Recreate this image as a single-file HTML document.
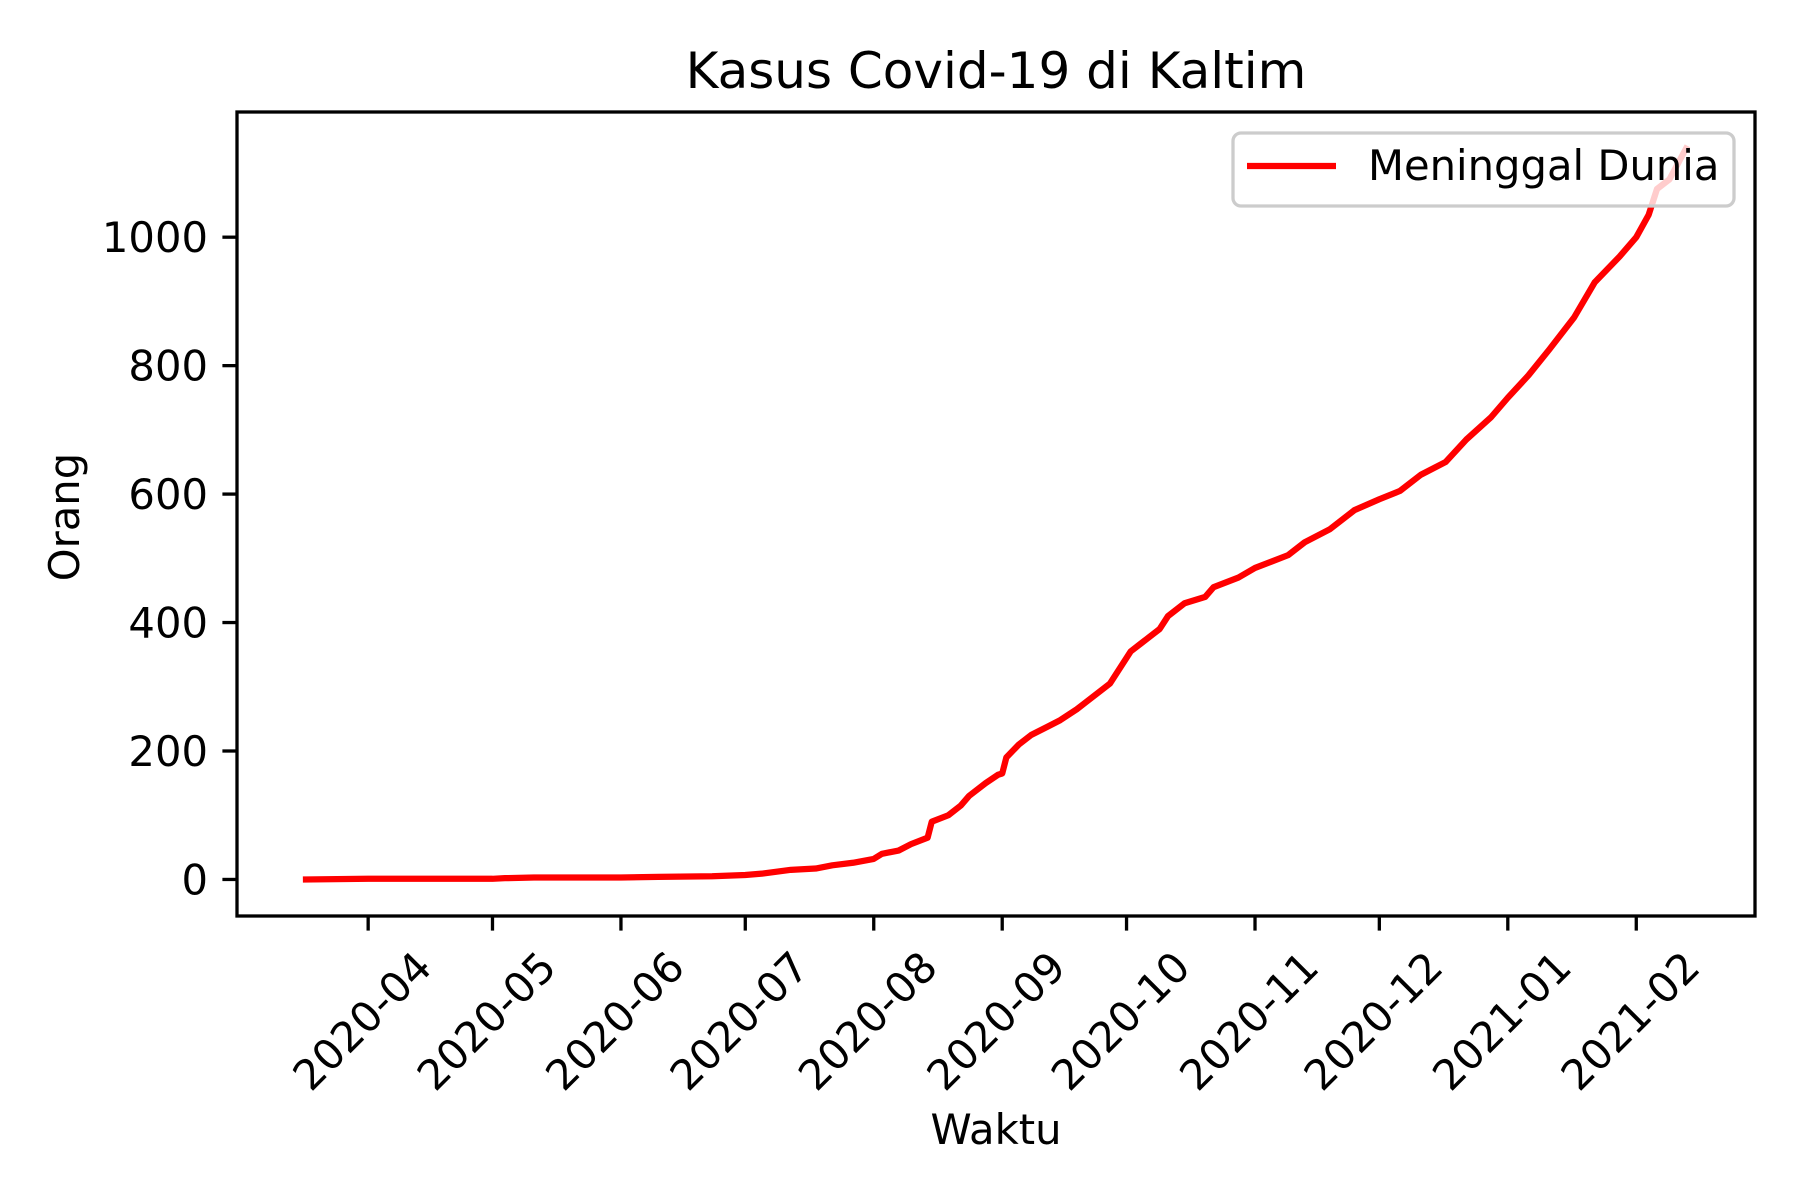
<!DOCTYPE html>
<html><head><meta charset="utf-8"><title>Kasus Covid-19 di Kaltim</title>
<style>html,body{margin:0;padding:0;background:#fff}svg{display:block}text{font-family:"DejaVu Sans","Liberation Sans",sans-serif;fill:#000}</style>
</head><body>
<svg id="chart" width="1800" height="1200" viewBox="0 0 1800 1200" xmlns="http://www.w3.org/2000/svg">
<rect width="1800" height="1200" fill="#fff"/>
<text x="996" y="88" font-size="50" text-anchor="middle">Kasus Covid-19 di Kaltim</text>
<g id="plot"></g>
<text x="996" y="1144" font-size="41.7" text-anchor="middle">Waktu</text>
<text transform="translate(79,517) rotate(-90)" font-size="41.7" text-anchor="middle">Orang</text>
</svg>
<script>
const dates = ["2020-03-17","2020-04-01","2020-05-01","2020-05-04","2020-05-11","2020-06-01","2020-06-10","2020-06-23","2020-07-01","2020-07-05","2020-07-12","2020-07-18","2020-07-22","2020-07-27","2020-08-01","2020-08-03","2020-08-07","2020-08-10","2020-08-14","2020-08-15","2020-08-19","2020-08-22","2020-08-24","2020-08-28","2020-08-31","2020-09-01","2020-09-02","2020-09-05","2020-09-08","2020-09-12","2020-09-15","2020-09-19","2020-09-21","2020-09-24","2020-09-27","2020-10-02","2020-10-04","2020-10-09","2020-10-11","2020-10-15","2020-10-20","2020-10-22","2020-10-28","2020-11-01","2020-11-05","2020-11-09","2020-11-13","2020-11-19","2020-11-25","2020-12-01","2020-12-06","2020-12-11","2020-12-17","2020-12-22","2020-12-28","2021-01-01","2021-01-06","2021-01-11","2021-01-17","2021-01-22","2021-01-28","2021-02-01","2021-02-04","2021-02-06","2021-02-09","2021-02-13"];
const deaths = [0,1,1,2,3,3,4,5,7,9,15,17,22,26,32,40,45,55,65,90,100,115,130,150,163,165,190,210,225,238,248,265,275,290,305,355,365,390,410,430,440,455,470,485,495,505,525,545,575,592,605,630,650,685,720,750,785,825,875,930,970,1000,1035,1075,1090,1138];
const xTicks = ["2020-04","2020-05","2020-06","2020-07","2020-08","2020-09","2020-10","2020-11","2020-12","2021-01","2021-02"];
const yTicks = [0,200,400,600,800,1000];

const NS="http://www.w3.org/2000/svg";
const L=237,R=1755,T=112,B=916;
const t=d=>Date.UTC(+d.slice(0,4),+d.slice(5,7)-1,d.length>7?+d.slice(8,10):1);
const ts=dates.map(t);
const tmin=Math.min(...ts),tmax=Math.max(...ts),tr=tmax-tmin;
const x0=tmin-0.05*tr,x1=tmax+0.05*tr;
const vmin=Math.min(...deaths),vmax=Math.max(...deaths),vr=vmax-vmin;
const y0=vmin-0.05*vr,y1=vmax+0.05*vr;
const X=v=>L+(v-x0)/(x1-x0)*(R-L);
const Y=v=>B-(v-y0)/(y1-y0)*(B-T);
const g=document.getElementById('plot');
function mk(tag,attrs,parent){const e=document.createElementNS(NS,tag);for(const k in attrs)e.setAttribute(k,attrs[k]);(parent||g).appendChild(e);return e;}

let d="";
ts.forEach((v,i)=>{d+=(i?"L":"M")+X(v).toFixed(2)+" "+Y(deaths[i]).toFixed(2);});
const line=mk('path',{d:d,fill:"none",stroke:"#ff0000","stroke-width":6.25,"stroke-linejoin":"round","stroke-linecap":"square"});



xTicks.forEach(s=>{
  const x=X(t(s));
  const tk=mk('line',{x1:x,x2:x,y1:B,y2:B+14.6,stroke:"#000","stroke-width":3.3});
  
  
  const tx=mk('text',{transform:`translate(${x-6},1021) rotate(-45)`,"font-size":41.7,"text-anchor":"middle","dominant-baseline":"central"});
  tx.textContent=s;
  
  
});
yTicks.forEach(v=>{
  const y=Y(v);
  const tk=mk('line',{x1:L-14.6,x2:L,y1:y,y2:y,stroke:"#000","stroke-width":3.3});
  
  
  const tx=mk('text',{x:L-29,y:y+15,"font-size":41.7,"text-anchor":"end"});
  tx.textContent=v;
  
  
});
const fr=mk('rect',{x:L,y:T,width:R-L,height:B-T,fill:"none",stroke:"#000","stroke-width":3.3});



const lg=mk('g',{});


mk('rect',{x:1233,y:133,width:501,height:73,rx:8,fill:"#fff","fill-opacity":0.8,stroke:"#cccccc","stroke-width":3.3},lg);
const ll=mk('line',{x1:1247,x2:1336,y1:166,y2:166,stroke:"#ff0000","stroke-width":6.25},lg);


const lt=mk('text',{x:1368,y:180,"font-size":41.7},lg);
lt.textContent="Meninggal Dunia";


</script>
</body></html>
